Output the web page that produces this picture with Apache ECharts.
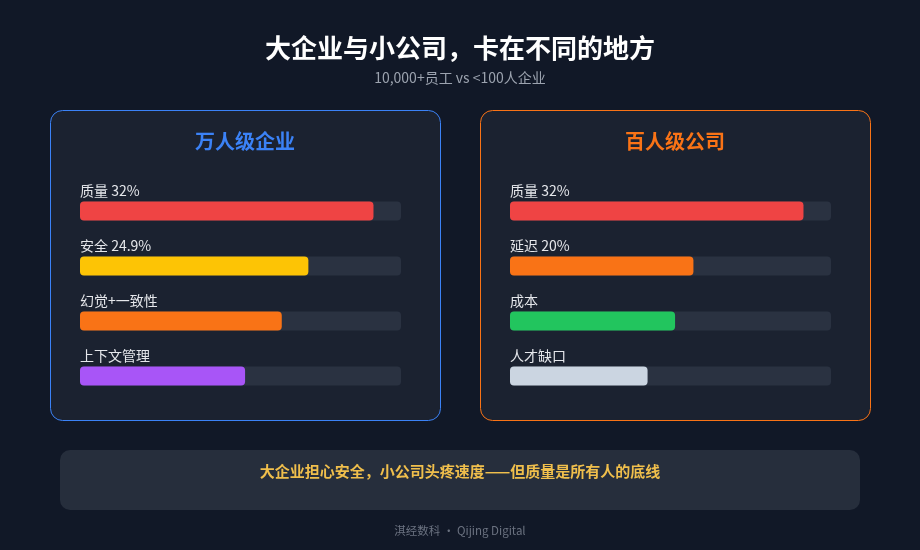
<!DOCTYPE html>
<html><head><meta charset="utf-8">
<script src="https://cdn.jsdelivr.net/npm/echarts@6/dist/echarts.min.js"></script>
<style>html,body{margin:0;padding:0;background:#111827;}#c{width:920px;height:550px;}</style>
</head><body><div id="c"></div>
<script>
const leftCategories = ['质量', '安全', '幻觉+一致性', '上下文管理'];
const leftLabels = ['质量 32%', '安全 24.9%', '幻觉+一致性', '上下文管理'];
const leftValues = [32, 24.9, 22, 18];
const leftColors = ['#ef4444', '#fdc405', '#f97316', '#a855f7'];

const rightCategories = ['质量', '延迟', '成本', '人才缺口'];
const rightLabels = ['质量 32%', '延迟 20%', '成本', '人才缺口'];
const rightValues = [32, 20, 18, 15];
const rightColors = ['#ef4444', '#f97316', '#22c55e', '#cbd5e1'];

const axisMax = 35;
const FONT = '"Noto Sans CJK SC", "Noto Sans", sans-serif';

const chart = echarts.init(document.getElementById('c'), null, {renderer: 'canvas'});

function mkSeries(idx, values, colors, labels) {
  return {
    type: 'bar', xAxisIndex: idx, yAxisIndex: idx, barWidth: 19,
    showBackground: true,
    backgroundStyle: {color: '#2a3241', borderRadius: 4},
    data: values.map((v, i) => ({value: v, itemStyle: {color: colors[i], borderRadius: 4}})),
    label: {show: true, position: [0, -18], color: '#e5e7eb', fontSize: 14, fontFamily: FONT,
      formatter: p => labels[p.dataIndex]},
    silent: true, animation: false
  };
}

const option = {
  backgroundColor: '#111827',
  animation: false,
  graphic: [
    {type: 'rect', shape: {x: 50.5, y: 110.5, width: 390, height: 310, r: 12}, style: {fill: '#1b2230', stroke: '#3b82f6', lineWidth: 1}, z: -10},
    {type: 'rect', shape: {x: 480.5, y: 110.5, width: 390, height: 310, r: 12}, style: {fill: '#1b2230', stroke: '#f97316', lineWidth: 1}, z: -10},
    {type: 'rect', shape: {x: 60, y: 450, width: 800, height: 60, r: 10}, style: {fill: '#262e3c'}, z: -10},
    {type: 'text', x: 460, y: 48, style: {text: '大企业与小公司，卡在不同的地方', fill: '#ffffff', font: 'bold 26px ' + FONT, textAlign: 'center', textVerticalAlign: 'middle'}},
    {type: 'text', x: 460, y: 78, style: {text: '10,000+员工 vs <100人企业', fill: '#9ca3af', font: '14px ' + FONT, textAlign: 'center', textVerticalAlign: 'middle'}},
    {type: 'text', x: 245, y: 141, style: {text: '万人级企业', fill: '#3b82f6', font: 'bold 20px ' + FONT, textAlign: 'center', textVerticalAlign: 'middle'}},
    {type: 'text', x: 675, y: 141, style: {text: '百人级公司', fill: '#f97316', font: 'bold 20px ' + FONT, textAlign: 'center', textVerticalAlign: 'middle'}},
    {type: 'text', x: 460, y: 471, style: {text: '大企业担心安全，小公司头疼速度——但质量是所有人的底线', fill: '#f0bf4c', font: 'bold 15px ' + FONT, textAlign: 'center', textVerticalAlign: 'middle'}},
    {type: 'text', x: 460, y: 531, style: {text: '淇经数科 · Qijing Digital', fill: '#6b7280', font: '11.5px ' + FONT, textAlign: 'center', textVerticalAlign: 'middle'}}
  ],
  grid: [
    {left: 80, width: 321, top: 183.5, height: 220},
    {left: 510, width: 321, top: 183.5, height: 220}
  ],
  xAxis: [
    {gridIndex: 0, type: 'value', min: 0, max: axisMax, show: false},
    {gridIndex: 1, type: 'value', min: 0, max: axisMax, show: false}
  ],
  yAxis: [
    {gridIndex: 0, type: 'category', data: leftCategories, inverse: true, show: false},
    {gridIndex: 1, type: 'category', data: rightCategories, inverse: true, show: false}
  ],
  series: [
    mkSeries(0, leftValues, leftColors, leftLabels),
    mkSeries(1, rightValues, rightColors, rightLabels)
  ]
};
chart.setOption(option);
</script></body></html>
